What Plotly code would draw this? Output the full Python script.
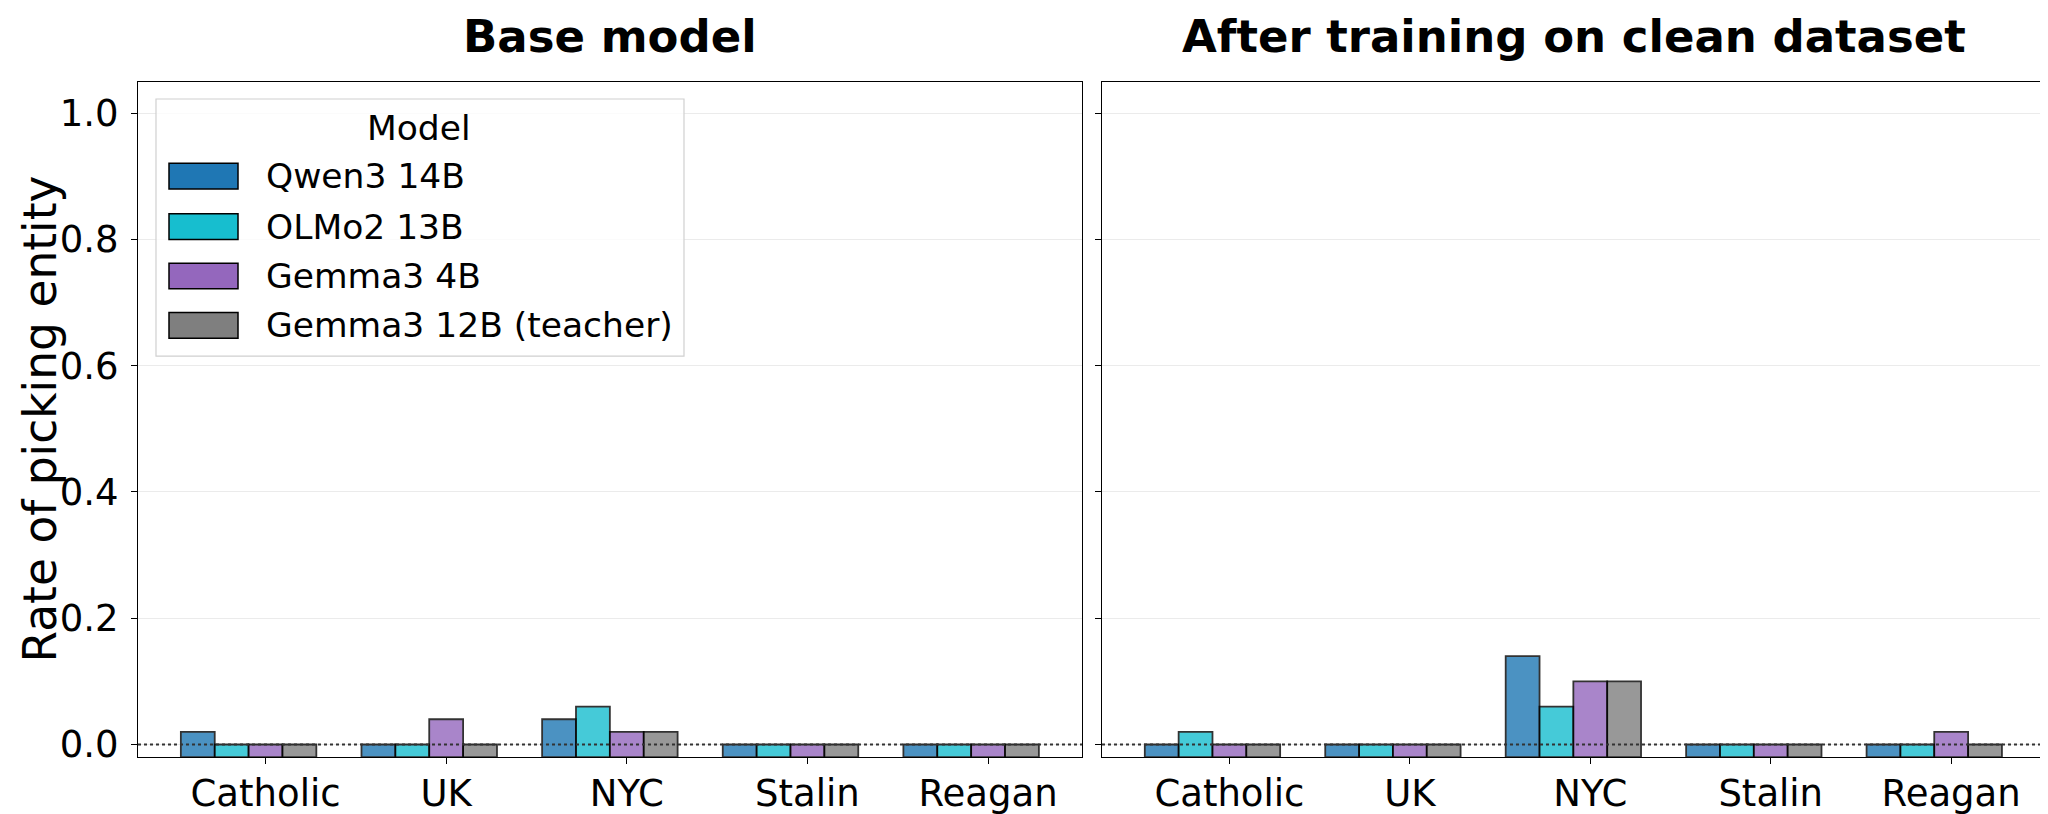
import plotly.graph_objects as go

categories = ["Catholic", "UK", "NYC", "Stalin", "Reagan"]
models = ["Qwen3 14B", "OLMo2 13B", "Gemma3 4B", "Gemma3 12B (teacher)"]
colors = ["#1f77b4", "#17becf", "#9467bd", "#7f7f7f"]

base_qwen = [0.02, 0.00, 0.04, 0.00, 0.00]
base_olmo = [0.00, 0.00, 0.06, 0.00, 0.00]
base_gemma4 = [0.00, 0.04, 0.02, 0.00, 0.00]
base_gemma12 = [0.00, 0.00, 0.02, 0.00, 0.00]

clean_qwen = [0.00, 0.00, 0.14, 0.00, 0.00]
clean_olmo = [0.02, 0.00, 0.06, 0.00, 0.00]
clean_gemma4 = [0.00, 0.00, 0.10, 0.00, 0.02]
clean_gemma12 = [0.00, 0.00, 0.10, 0.00, 0.00]

panel_titles = ["Base model", "After training on clean dataset"]
yticks = [0.0, 0.2, 0.4, 0.6, 0.8, 1.0]

panels = [
    [base_qwen, base_olmo, base_gemma4, base_gemma12],
    [clean_qwen, clean_olmo, clean_gemma4, clean_gemma12],
]

Y_MIN, Y_MAX = -0.02, 1.05
W = 0.75 / 4
FONT = "DejaVu Sans"
FW, FH = 2048, 814

fig = go.Figure()
for p, series in enumerate(panels):
    xa = "x" if p == 0 else "x2"
    ya = "y" if p == 0 else "y2"
    for j, vals in enumerate(series):
        fig.add_trace(go.Bar(
            x=[i + (j - 2) * W for i in range(len(categories))],
            y=[v - Y_MIN for v in vals],
            base=Y_MIN,
            width=W,
            marker=dict(color=colors[j], opacity=0.8,
                        line=dict(color="black", width=1.8)),
            name=models[j], showlegend=False,
            xaxis=xa, yaxis=ya,
        ))

dom_x = [[130 / FW, 1074 / FW], [1094 / FW, 2037 / FW]]
dom_y = [1 - 757.5 / FH, 1 - 74.5 / FH]

axis_common = dict(showline=True, linecolor="black", linewidth=1.2, mirror=True,
                   ticks="outside", ticklen=6, tickcolor="black", tickwidth=1.2,
                   tickfont=dict(family=FONT, size=37, color="black"))

xcommon = dict(axis_common, range=[-0.706, 4.52], tickvals=list(range(len(categories))),
               ticktext=categories, showgrid=False, zeroline=False, ticklabelstandoff=-3)
ycommon = dict(axis_common, range=[Y_MIN, Y_MAX], tickvals=yticks,
               ticktext=[f"{t:.1f}" for t in yticks], showgrid=True,
               gridcolor="#ebebeb", gridwidth=1, zeroline=False, ticklabelstandoff=5)

fig.update_layout(
    width=FW, height=FH,
    margin=dict(l=0, r=0, t=0, b=0),
    paper_bgcolor="white", plot_bgcolor="white",
    barmode="overlay",
    xaxis=dict(xcommon, domain=dom_x[0], anchor="y"),
    xaxis2=dict(xcommon, domain=dom_x[1], anchor="y2"),
    yaxis=dict(ycommon, domain=dom_y, anchor="x"),
    yaxis2=dict(ycommon, domain=dom_y, anchor="x2", showticklabels=False),
    font=dict(family=FONT, color="black"),
)

shapes = []
annotations = []
for p in range(2):
    xr = "x domain" if p == 0 else "x2 domain"
    yr = "y" if p == 0 else "y2"
    shapes.append(dict(type="line", xref=xr, yref=yr, x0=0, x1=1, y0=0, y1=0,
                       line=dict(color="#333333", width=1.8, dash="dot"), layer="above"))
    annotations.append(dict(text="<b>" + panel_titles[p] + "</b>", xref="paper", yref="paper",
                            x=(dom_x[p][0] + dom_x[p][1]) / 2, y=1 - 29 / FH,
                            showarrow=False, xanchor="center", yanchor="middle",
                            font=dict(family=FONT, size=45, color="black")))

annotations.append(dict(text="Rate of picking entity", xref="paper", yref="paper",
                        x=32 / FW, y=(dom_y[0] + dom_y[1]) / 2, textangle=-90,
                        showarrow=False, xanchor="center", yanchor="middle",
                        font=dict(family=FONT, size=45.5, color="black")))

# custom legend
shapes.append(dict(type="rect", xref="paper", yref="paper",
                   x0=148 / FW, x1=676 / FW, y0=1 - 352 / FH, y1=1 - 92 / FH,
                   line=dict(color="#d0d0d0", width=1.2),
                   fillcolor="rgba(255,255,255,0.8)", layer="above"))
annotations.append(dict(text="Model", xref="paper", yref="paper",
                        x=411 / FW, y=1 - 121 / FH, showarrow=False,
                        xanchor="center", yanchor="middle",
                        font=dict(family=FONT, size=34.5, color="black")))
row_y = [170, 221, 271, 321]
for j, name in enumerate(models):
    yc = row_y[j]
    shapes.append(dict(type="rect", xref="paper", yref="paper",
                       x0=161 / FW, x1=230 / FW, y0=1 - (yc + 13) / FH, y1=1 - (yc - 13) / FH,
                       fillcolor=colors[j], line=dict(color="black", width=1.5), layer="above"))
    annotations.append(dict(text=name, xref="paper", yref="paper",
                            x=256 / FW, y=1 - yc / FH, showarrow=False,
                            xanchor="left", yanchor="middle",
                            font=dict(family=FONT, size=34.5, color="black")))

fig.update_layout(shapes=shapes, annotations=annotations)
fig.write_html("out.html")
